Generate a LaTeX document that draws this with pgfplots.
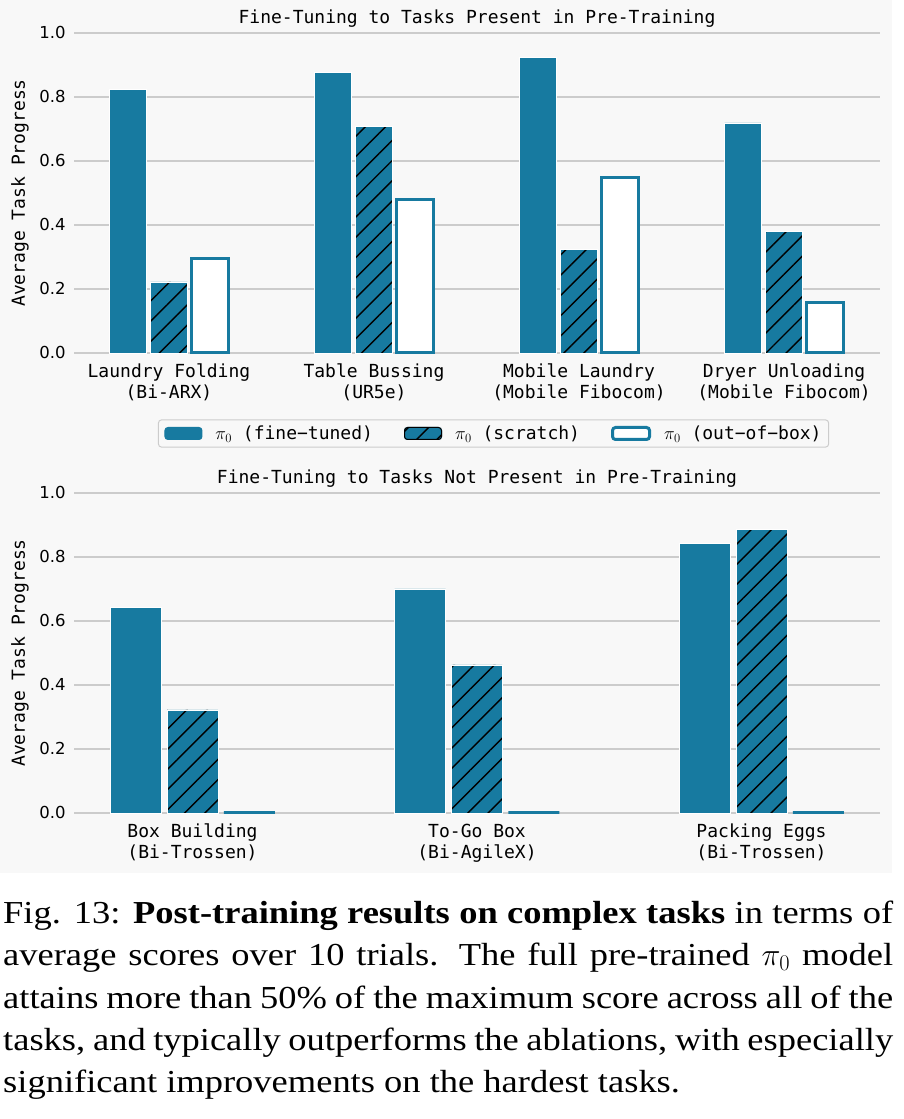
\RequirePackage{fix-cm}
\documentclass[border=0pt]{standalone}
\usepackage{fontspec}
\usepackage{pgfplots}
\usepackage{pgfplotstable}
\pgfplotsset{compat=1.18}
\usetikzlibrary{patterns.meta}
\newfontfamily\monof{DejaVu Sans Mono}
\newfontfamily\tickf{DejaVu Sans}
\newfontfamily\capf[FakeStretch=1.14]{Liberation Serif}
\definecolor{pblue}{RGB}{23,122,160}
\definecolor{bggray}{RGB}{248,248,248}
\definecolor{gridc}{RGB}{204,204,204}

\pgfplotstableread{
x fine scratch oob
0 0.824 0.222 0.296
1 0.878 0.708 0.479
2 0.924 0.324 0.548
3 0.719 0.379 0.158
}\toptable
\pgfplotstableread{
x fine scratch oob
0 0.641 0.322 0.0
1 0.700 0.4625 0.0
2 0.843 0.887 0.0
}\bottable

\newcommand\mono{\fontsize{18bp}{21bp}\selectfont\monof}

\pgfplotsset{
 mybars/.style={
  scale only axis, width=806bp, height=320bp,
  ymin=0, ymax=1, ytick={0,0.2,0.4,0.6,0.8,1},
  axis line style={draw=none}, major tick length=0pt, tick style={draw=none},
  ymajorgrids, major grid style={gridc, line width=1.3bp},
  yticklabel style={font=\fontsize{16.5bp}{18bp}\selectfont\tickf, anchor=east, inner sep=0pt, xshift=-8.3bp},
  /pgf/number format/fixed, /pgf/number format/fixed zerofill,
  /pgf/number format/precision=1, /pgf/number format/assume math mode=true,
  xtick=data,
  xticklabel style={font=\mono, align=center, anchor=north, inner sep=0pt, yshift=-10.8bp},
  every axis y label/.style={at={(axis description cs:0,0.5)}, xshift=-54bp, rotate=90, anchor=center, font=\mono},
  ylabel={Average Task Progress},
  every axis title/.style={at={(0.5,1)}, anchor=base, yshift=9.7bp, font=\mono},
  clip=false,
 },
 pfine/.style={ybar, bar width=0.179, bar shift=-0.2, fill=pblue, draw=white, line width=0.8bp, forget plot},
 pscr/.style={ybar, bar width=0.179, bar shift=0, fill=pblue, draw=white, line width=0.8bp, forget plot,
   postaction={pattern={Lines[angle=45,distance=14.3bp,line width=1.4bp]}, pattern color=black}},
 poob/.style={ybar, bar width=0.179, bar shift=0.2, fill=white, draw=pblue, line width=3bp, forget plot},
}

\begin{document}
\begin{tikzpicture}[x=1bp,y=1bp]
\useasboundingbox (0,0) rectangle (904,1119);
\fill[white] (0,0) rectangle (904,1119);
\fill[bggray] (0,246) rectangle (892,1119);

\begin{axis}[mybars, at={(74bp,766bp)}, anchor=south west,
  xmin=-0.463, xmax=3.468,
  xticklabels={Laundry Folding\\(Bi-ARX), Table Bussing\\(UR5e), Mobile Laundry\\(Mobile Fibocom), Dryer Unloading\\(Mobile Fibocom)},
  title={Fine-Tuning to Tasks Present in Pre-Training},
  legend columns=3,
  legend style={at={(0.5205,-0.2516)}, anchor=center, draw=gridc, line width=1bp, fill=bggray, rounded corners=3bp,
    font=\mono, inner xsep=6bp, inner ysep=5bp, nodes={inner sep=1bp},
    /tikz/every odd column/.append style={column sep=12bp},
    /tikz/every even column/.append style={column sep=30bp}},
]
\addplot[pfine] table[x=x,y=fine]{\toptable};
\addplot[pscr] table[x=x,y=scratch]{\toptable};
\addplot[poob] table[x=x,y=oob]{\toptable};
\addlegendimage{legend image code/.code={\fill[pblue] (0bp,-6bp) rectangle (37bp,6bp);}}
\addlegendentry{$\pi_0$ (fine−tuned)}
\addlegendimage{legend image code/.code={\fill[pblue] (0bp,-6bp) rectangle (37bp,6bp);
   \fill[pattern={Lines[angle=45,distance=14.3bp,line width=1.4bp]}, pattern color=black] (0bp,-6bp) rectangle (37bp,6bp);}}
\addlegendentry{$\pi_0$ (scratch)}
\addlegendimage{legend image code/.code={\draw[pblue, line width=3bp, fill=white] (0bp,-6bp) rectangle (37bp,6bp);}}
\addlegendentry{$\pi_0$ (out−of−box)}
\end{axis}

\begin{axis}[mybars, at={(74bp,306bp)}, anchor=south west,
  xmin=-0.4165, xmax=2.4165,
  xticklabels={Box Building\\(Bi-Trossen), To-Go Box\\(Bi-AgileX), Packing Eggs\\(Bi-Trossen)},
  title={Fine-Tuning to Tasks Not Present in Pre-Training},
]
\addplot[pfine] table[x=x,y=fine]{\bottable};
\addplot[pscr] table[x=x,y=scratch]{\bottable};
\addplot[poob] table[x=x,y=oob]{\bottable};
\end{axis}

\node[anchor=north west, inner sep=0pt, text width=890bp, align=justify,
  font=\fontsize{32bp}{42.2bp}\selectfont\capf] at (3,218) {%
Fig. 13: \textbf{Post-training results on complex tasks} in terms of\linebreak
average scores over 10 trials. The full pre-trained $\pi_0$ model\linebreak
attains more than 50\% of the maximum score across all of the\linebreak
tasks, and typically outperforms the ablations, with especially\linebreak
significant improvements on the hardest tasks.};
\end{tikzpicture}
\end{document}
